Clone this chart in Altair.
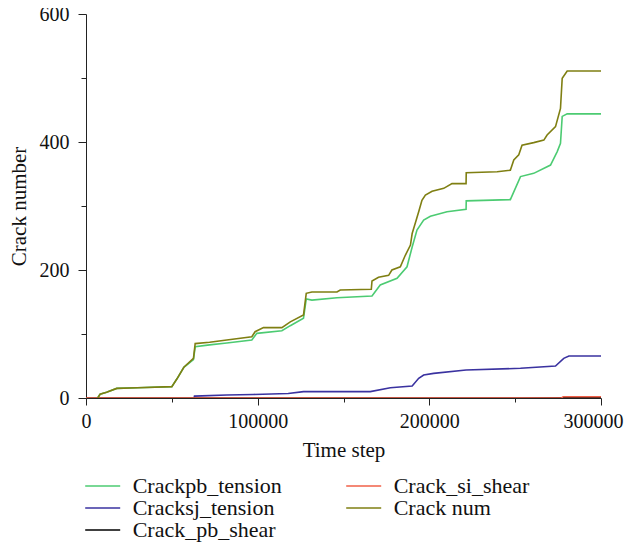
import altair as alt
import pandas as pd

# Crack num (olive)
num_t = [6800, 8200, 12000, 17900, 30000, 50000, 53000, 57000, 62600, 63600, 72000, 82000, 96600, 98500,
         103400, 114100, 119000, 126700, 128300, 131600, 146200, 148100, 166200, 166600, 170400, 176300,
         178200, 183100, 186000, 189000, 190000, 191800, 193800, 195700, 197700, 201600, 208400, 213200,
         221400, 221500, 239500, 247200, 249200, 252100, 254000, 260800, 266700, 268600, 273500, 276400,
         277400, 280300, 300000]
num_v = [0, 5.8, 9, 15, 16, 17.7, 30, 48, 62, 85, 87, 90.6, 95.8, 103.6,
         110, 110, 119, 129.7, 163.6, 165.6, 165.6, 168.8, 169.8, 182.8, 188.6, 191.7,
         200, 205, 223, 239, 257, 273, 291, 309, 317, 323, 327.6, 335,
         335, 352, 353.6, 356, 372, 380, 395, 399, 403, 411, 424, 452.6,
         499.5, 511, 511]

# Crackpb_tension (green)
pb_t = [6800, 8200, 12000, 17900, 30000, 50000, 53000, 57000, 62600, 63600, 72000, 82000, 96600, 99500,
        114100, 119000, 126700, 128300, 131600, 146200, 166600, 171400, 181200, 187000, 190000, 192800,
        196700, 200600, 210300, 221400, 221500, 247200, 253100, 260800, 270600, 274500, 276400, 277400,
        280300, 300000]
pb_v = [0, 5.8, 9, 15, 16, 17.7, 30, 48, 60, 80, 83, 86, 90.6, 101,
        105, 113, 124.5, 154.7, 153, 156.7, 159.4, 176.6, 187, 205, 236, 262.5,
        278, 284, 291, 295, 308, 310, 346, 351, 364, 385, 398, 440,
        444, 444]

# Cracksj_tension (blue)
sj_t = [63000, 63200, 82000, 97500, 117800, 126700, 165600, 177300, 190000, 193800, 196700, 202500,
        221400, 253100, 273500, 278300, 281300, 300000]
sj_v = [0, 3, 4.7, 5.5, 7, 10, 10, 16, 18.75, 30.8, 36, 38.5,
        43.75, 46.4, 50, 62, 65.6, 65.6]

# Crack_pb_shear (black)
pbs_t = [0, 250000, 278000, 300000]
pbs_v = [0, 0, 0.5, 0.5]

# Crack_si_shear (red)
sis_t = [0, 277000, 278000, 300000]
sis_v = [0, 0, 2, 2]

names = ["Crackpb_tension", "Cracksj_tension", "Crack_pb_shear", "Crack_si_shear", "Crack num"]
colors = ["#4ccb72", "#3a32a0", "#000000", "#f06048", "#7f7f12"]
series_t = [pb_t, sj_t, pbs_t, sis_t, num_t]
series_v = [pb_v, sj_v, pbs_v, sis_v, num_v]

x_ticks = [0, 50000, 100000, 150000, 200000, 250000, 300000]
y_ticks = [0, 100, 200, 300, 400, 500, 600]

rows = []
for n, ts, vs in zip(names, series_t, series_v):
    for i, (t, v) in enumerate(zip(ts, vs)):
        rows.append({"series": n, "t": t, "v": v, "idx": i})
df = pd.DataFrame(rows)

FONT = "Liberation Serif"

chart = alt.Chart(df).mark_line(strokeWidth=1.6, clip=True).encode(
    x=alt.X("t:Q", title="Time step",
            scale=alt.Scale(domain=[0, 300000], nice=False, zero=False),
            axis=alt.Axis(values=x_ticks,
                          labelExpr="datum.value % 100000 == 0 ? datum.value : ''",
                          labelOffset={"condition": {"test": "datum.value == 300000", "value": -8}, "value": 0},
                          tickSize={"condition": {"test": "datum.value % 100000 == 0", "value": 7}, "value": 4},
                          grid=False, labelPadding=6, titlePadding=8,
                          labelFontSize=20, titleFontSize=21, labelFont=FONT, titleFont=FONT,
                          labelColor="#111", titleColor="#111", domainColor="#222", tickColor="#222",
                          labelFlush=False, titleFontWeight="normal")),
    y=alt.Y("v:Q", title="Crack number",
            scale=alt.Scale(domain=[0, 600], nice=False),
            axis=alt.Axis(values=y_ticks,
                          labelExpr="datum.value % 200 == 0 ? datum.value : ''",
                          tickSize={"condition": {"test": "datum.value % 200 == 0", "value": 8}, "value": 5},
                          grid=False, labelPadding=9, titlePadding=10,
                          labelFontSize=20, titleFontSize=21, labelFont=FONT, titleFont=FONT,
                          labelColor="#111", titleColor="#111", domainColor="#222", tickColor="#222",
                          labelFlush=False, titleFontWeight="normal")),
    color=alt.Color("series:N",
                    scale=alt.Scale(domain=names, range=colors),
                    legend=alt.Legend(title=None, orient="none", legendX=5.7, legendY=461,
                                      columns=2, symbolType="M-3,0H3", symbolSize=136,
                                      symbolStrokeWidth=1.6, labelFontSize=22, labelFont=FONT,
                                      labelColor="#111", labelOffset=19, columnPadding=60,
                                      rowPadding=0, labelLimit=300)),
    order="idx:Q",
).properties(
    width=515, height=384,
    autosize=alt.AutoSizeParams(type="none"),
    padding={"left": 78, "top": 6, "right": 23, "bottom": 148},
).configure_view(stroke=None)

chart.save("out.html", embed_options={"renderer": "svg", "actions": False})
